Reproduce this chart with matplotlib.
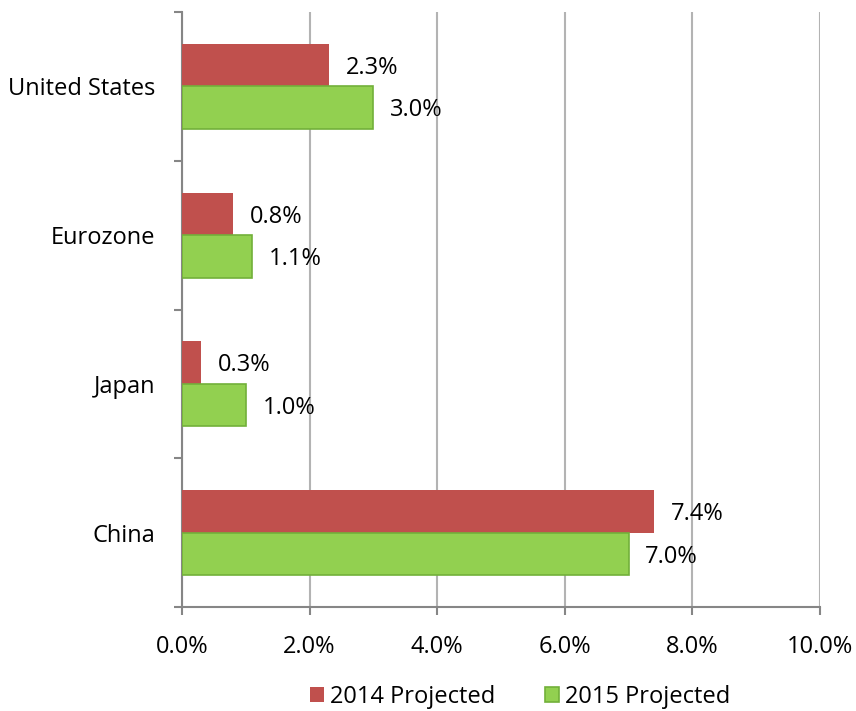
import numpy as np
import matplotlib
matplotlib.use("Agg")
import matplotlib.pyplot as plt
from matplotlib.ticker import FuncFormatter, FixedLocator

plt.rcParams["font.family"] = ["Open Sans", "DejaVu Sans"]

regions = ["United States", "Eurozone", "Japan", "China"]
growth_2014 = [2.3, 0.8, 0.3, 7.4]
growth_2015 = [3.0, 1.1, 1.0, 7.0]
series_names = ["2014 Projected", "2015 Projected"]

red = "#C0504D"
green = "#92D050"
grid_grey = "#B3B3B3"
axis_grey = "#868686"
fs = 17

fig = plt.figure(figsize=(8.56, 7.11), dpi=100)
ax = fig.add_axes([182 / 856, 1 - 607 / 711, (820 - 182) / 856, (607 - 12) / 711])

y = np.arange(len(regions))
h = 0.286
ax.barh(y - h / 2, growth_2014, height=h, color=red, label=series_names[0], zorder=3)
ax.barh(y + h / 2, growth_2015, height=h, color=green, edgecolor="#72B03A",
        linewidth=1.2, label=series_names[1], zorder=3)

# value labels just past the bar ends
for yi, v in zip(y - h / 2, growth_2014):
    ax.annotate(f"{v:.1f}%", (v, yi), xytext=(12, -2), textcoords="offset points",
                va="center", ha="left", fontsize=fs)
for yi, v in zip(y + h / 2, growth_2015):
    ax.annotate(f"{v:.1f}%", (v, yi), xytext=(12, -2), textcoords="offset points",
                va="center", ha="left", fontsize=fs)

ax.set_xlim(0, 10)
ax.set_ylim(len(regions) - 0.5, -0.5)
ax.set_xticks(np.arange(0, 10.1, 2))
ax.xaxis.set_major_formatter(FuncFormatter(lambda v, _: f"{v:.1f}%"))
ax.grid(axis="x", color=grid_grey, linewidth=1.5, zorder=0)

ax.set_yticks(y)
ax.set_yticklabels(regions)
ax.yaxis.set_minor_locator(FixedLocator(np.arange(-0.5, len(regions), 1)))
ax.tick_params(axis="y", which="major", length=0, pad=19, labelsize=fs)
ax.tick_params(axis="y", which="minor", length=6, width=1.5, color=axis_grey)
ax.tick_params(axis="x", length=6, width=1.5, color=axis_grey, pad=14, labelsize=fs)

for side in ["top", "right"]:
    ax.spines[side].set_visible(False)
for side in ["left", "bottom"]:
    ax.spines[side].set_color(axis_grey)
    ax.spines[side].set_linewidth(1.5)

fig.legend(loc="center", bbox_to_anchor=(520 / 856, 1 - 697 / 711), ncol=2,
           frameon=False, fontsize=fs, handlelength=0.6, handleheight=0.6,
           handletextpad=0.25, columnspacing=2.1)

fig.savefig("out.png", dpi=100)
